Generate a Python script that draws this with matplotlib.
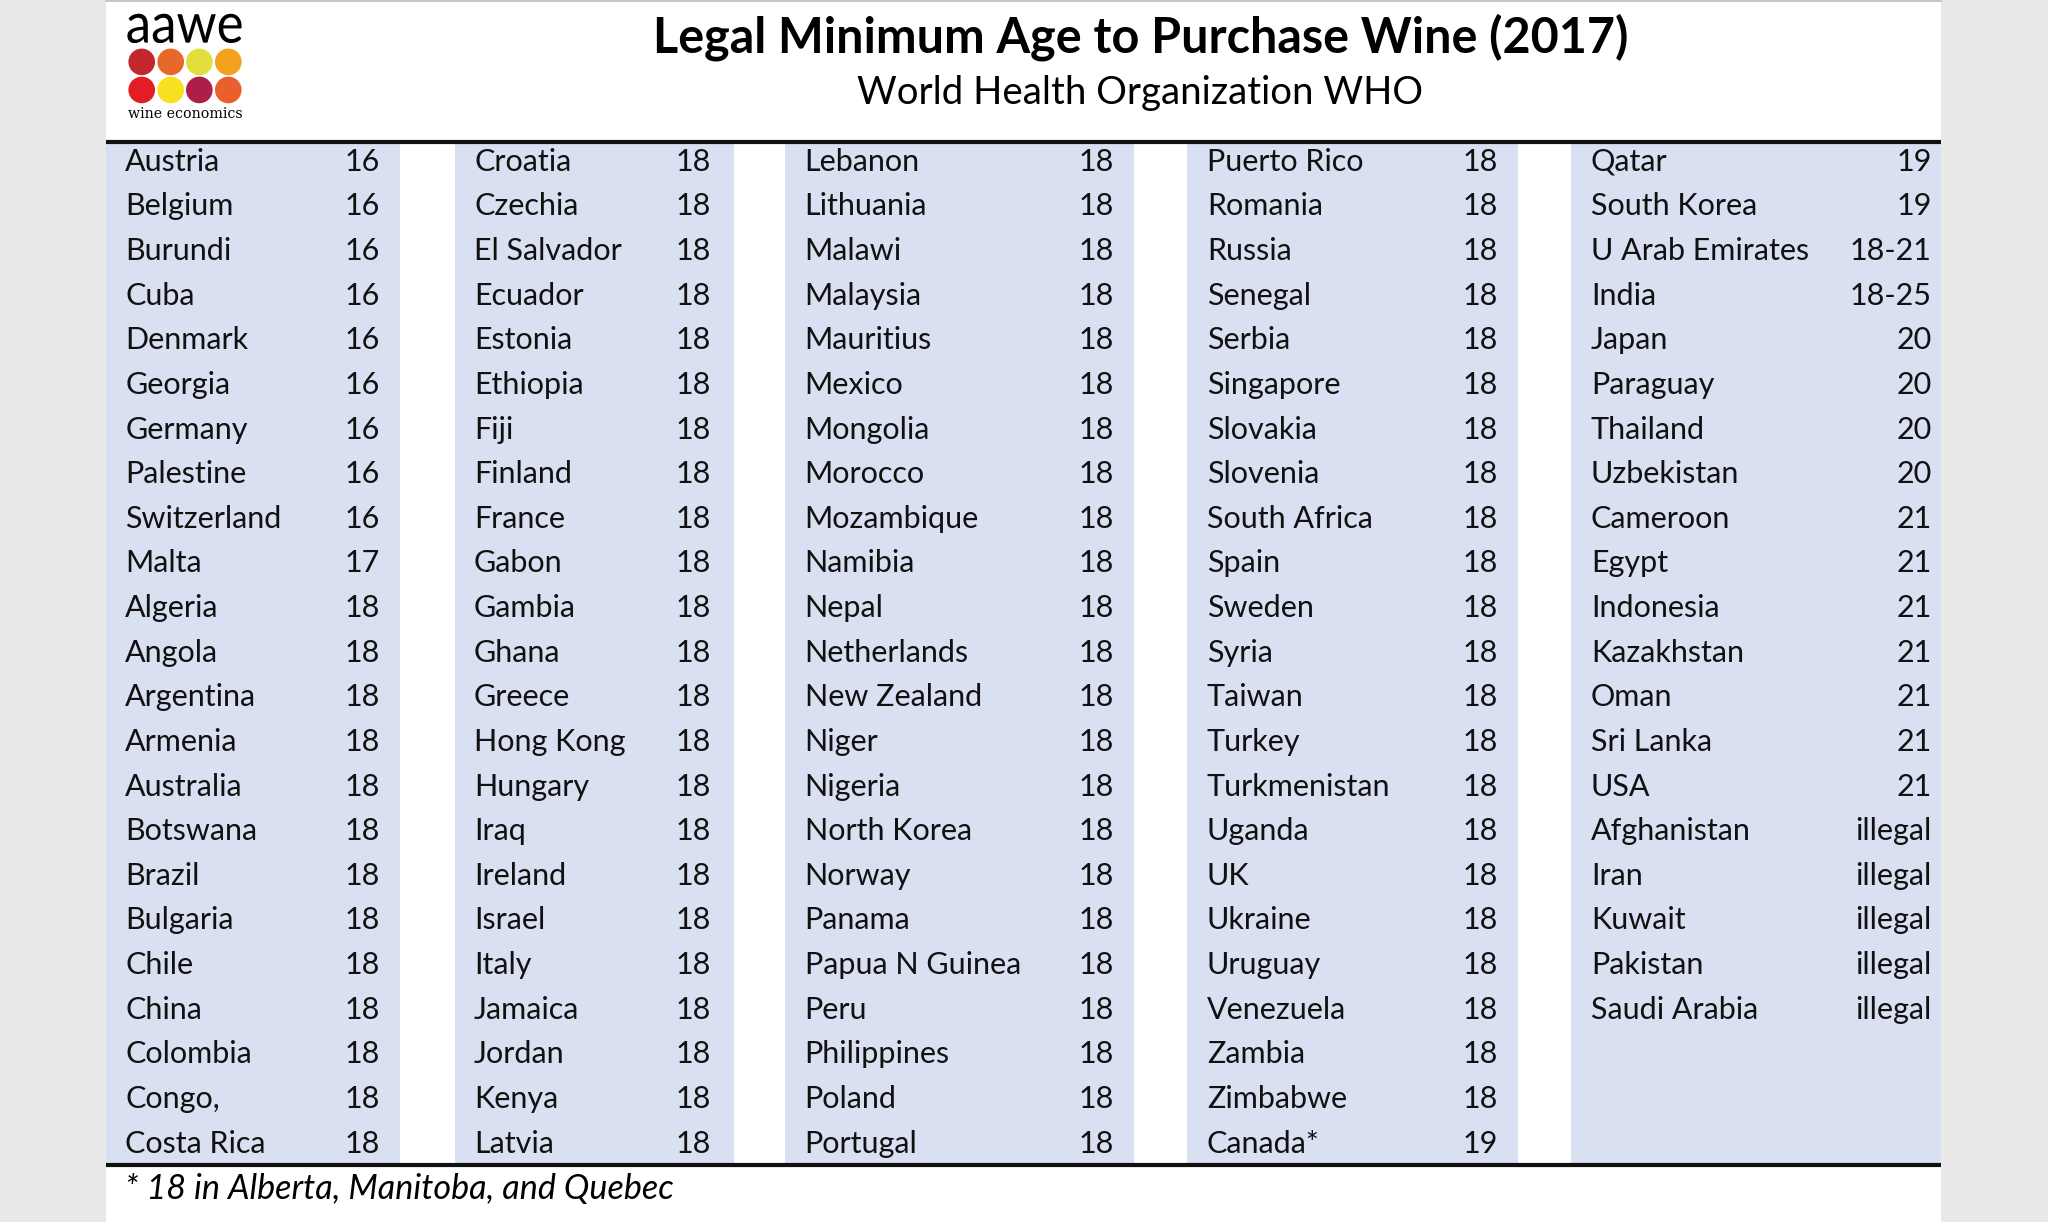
import matplotlib
matplotlib.use("Agg")
import matplotlib.pyplot as plt
from matplotlib.patches import Rectangle, Circle, PathPatch
from matplotlib.textpath import TextPath
from matplotlib.font_manager import FontProperties
from matplotlib.transforms import Affine2D

# ---------------- data ----------------
title = "Legal Minimum Age to Purchase Wine (2017)"
subtitle = "World Health Organization WHO"
footnote = "* 18 in Alberta, Manitoba, and Quebec"

col1_countries = ["Austria", "Belgium", "Burundi", "Cuba", "Denmark", "Georgia", "Germany",
                  "Palestine", "Switzerland", "Malta", "Algeria", "Angola", "Argentina",
                  "Armenia", "Australia", "Botswana", "Brazil", "Bulgaria", "Chile", "China",
                  "Colombia", "Congo,", "Costa Rica"]
col1_ages = ["16"] * 9 + ["17"] + ["18"] * 13

col2_countries = ["Croatia", "Czechia", "El Salvador", "Ecuador", "Estonia", "Ethiopia", "Fiji",
                  "Finland", "France", "Gabon", "Gambia", "Ghana", "Greece", "Hong Kong",
                  "Hungary", "Iraq", "Ireland", "Israel", "Italy", "Jamaica", "Jordan",
                  "Kenya", "Latvia"]
col2_ages = ["18"] * 23

col3_countries = ["Lebanon", "Lithuania", "Malawi", "Malaysia", "Mauritius", "Mexico",
                  "Mongolia", "Morocco", "Mozambique", "Namibia", "Nepal", "Netherlands",
                  "New Zealand", "Niger", "Nigeria", "North Korea", "Norway", "Panama",
                  "Papua N Guinea", "Peru", "Philippines", "Poland", "Portugal"]
col3_ages = ["18"] * 23

col4_countries = ["Puerto Rico", "Romania", "Russia", "Senegal", "Serbia", "Singapore",
                  "Slovakia", "Slovenia", "South Africa", "Spain", "Sweden", "Syria",
                  "Taiwan", "Turkey", "Turkmenistan", "Uganda", "UK", "Ukraine", "Uruguay",
                  "Venezuela", "Zambia", "Zimbabwe", "Canada*"]
col4_ages = ["18"] * 22 + ["19"]

col5_countries = ["Qatar", "South Korea", "U Arab Emirates", "India", "Japan", "Paraguay",
                  "Thailand", "Uzbekistan", "Cameroon", "Egypt", "Indonesia", "Kazakhstan",
                  "Oman", "Sri Lanka", "USA", "Afghanistan", "Iran", "Kuwait", "Pakistan",
                  "Saudi Arabia"]
col5_ages = ["19", "19", "18-21", "18-25", "20", "20", "20", "20", "21", "21", "21", "21",
             "21", "21", "21", "illegal", "illegal", "illegal", "illegal", "illegal"]

logo_colors = ["#c1272d", "#e8672a", "#e2df3c", "#f4a11f",
               "#e31d25", "#f6e01f", "#ad1f48", "#e9602d"]

# ---------------- layout ----------------
W, H = 1568, 936
FONT = "Lato"
BLUE = "#d9e0f1"
BODY_SIZE = 22

fig = plt.figure(figsize=(20.48, 12.22), dpi=100)
fig.patch.set_facecolor("#e9e9e9")
ax = fig.add_axes([0, 0, 1, 1])
ax.set_xlim(0, W)
ax.set_ylim(H, 0)
ax.axis("off")

# white panel
ax.add_patch(Rectangle((81, 0), 1486 - 81, H, facecolor="white", edgecolor="none", zorder=0))
ax.plot([81, 1486], [0.8, 0.8], color="#bdbdbd", lw=1.2, zorder=1)

fig.canvas.draw()
renderer = fig.canvas.get_renderer()


def fit_text(x, y, s, target_w, size0, **kw):
    t = ax.text(x, y, s, fontsize=size0, **kw)
    bb = t.get_window_extent(renderer=renderer)
    w_data = bb.width * W / fig.bbox.width
    t.set_fontsize(size0 * target_w / w_data)
    return t


# columns: (bg_left, bg_right, text_left, value_right)
cols = [
    (81, 306, 96, 291, col1_countries, col1_ages),
    (348, 562, 363, 544, col2_countries, col2_ages),
    (601, 868, 616, 853, col3_countries, col3_ages),
    (909, 1162, 924, 1147, col4_countries, col4_ages),
    (1203, 1486, 1218, 1479, col5_countries, col5_ages),
]
top_y, bot_y = 110, 891
row0, pitch = 122.0, (874.0 - 122.0) / 22

for bl, br, tl, vr, names, ages in cols:
    ax.add_patch(Rectangle((bl, top_y), br - bl, bot_y - top_y,
                           facecolor=BLUE, edgecolor="none", zorder=1))
    for i, (n, a) in enumerate(zip(names, ages)):
        yb = row0 + i * pitch + 8.8
        ax.text(tl, yb, n, fontsize=BODY_SIZE, family=FONT, ha="left", va="baseline",
                color="#111111", zorder=3)
        ax.text(vr, yb, a, fontsize=BODY_SIZE, family=FONT, ha="right", va="baseline",
                color="#111111", zorder=3)

# rules
ax.plot([81, 1486], [108.5, 108.5], color="#111111", lw=3, solid_capstyle="butt", zorder=4)
ax.plot([81, 1486], [892.5, 892.5], color="#111111", lw=3, solid_capstyle="butt", zorder=4)

# title & subtitle
fit_text(873, 40, title, 747, 30, family=FONT, weight="bold", ha="center",
         va="baseline", color="black", zorder=3)
fit_text(873, 80, subtitle, 433, 24, family=FONT, ha="center", va="baseline",
         color="black", zorder=3)

# footnote
fit_text(96, 918, footnote, 419, 20, family=FONT, style="italic", ha="left",
         va="baseline", color="black", zorder=3)

# logo: "aawe" stretched into its box
tp = TextPath((0, 0), "aawe", size=40, prop=FontProperties(family=FONT))
ext = tp.get_extents()
bx0, bx1, by0, by1 = 97.5, 185.0, 10.5, 33.0
tr = (Affine2D().translate(-ext.x0, -ext.y0)
      .scale((bx1 - bx0) / ext.width, -(by1 - by0) / ext.height)
      .translate(bx0, by1))
ax.add_patch(PathPatch(tr.transform_path(tp), facecolor="black", edgecolor="none", zorder=3))

xs = [108.5, 130.7, 152.6, 174.8]
ys = [47.4, 68.9]
for k, c in enumerate(logo_colors):
    ax.add_patch(Circle((xs[k % 4], ys[k // 4]), 10.2, facecolor=c, edgecolor="none", zorder=3))
fit_text(98, 90, "wine economics", 87, 9, family="DejaVu Serif", ha="left",
         va="baseline", color="black", zorder=3)

fig.savefig("out.png", dpi=100, facecolor=fig.get_facecolor())
